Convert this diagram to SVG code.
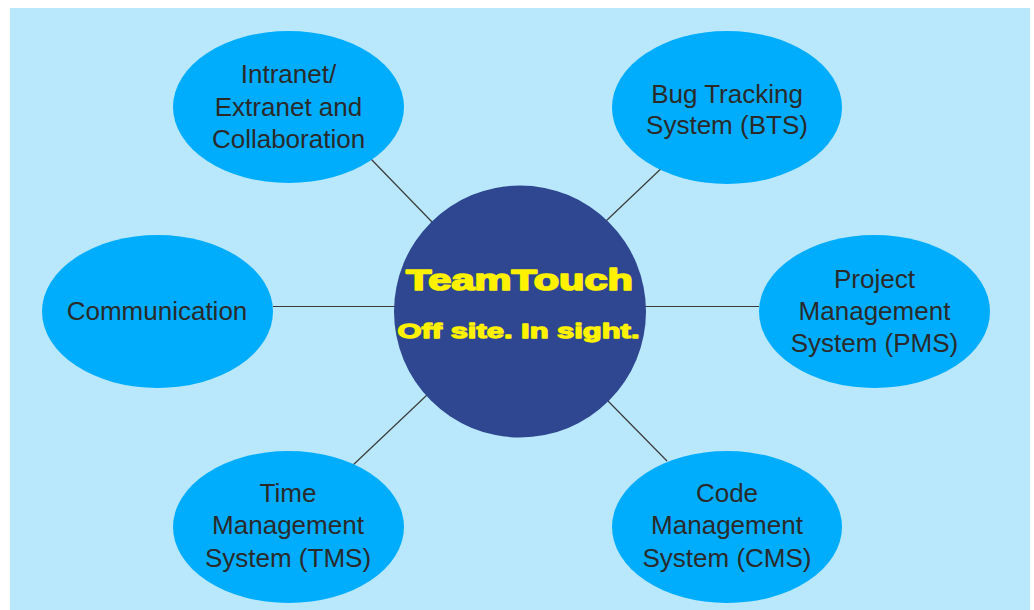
<svg xmlns="http://www.w3.org/2000/svg" width="1034" height="610" viewBox="0 0 1034 610">
<style>
.bg{fill:#b9e8fc}
.node{fill:#00adfd}
.hub{fill:#2f4690}
.lbl{font-family:"Liberation Sans",Arial,sans-serif;font-size:26px;fill:#2a2a2a;text-anchor:middle}
.hubt{font-family:"Liberation Sans",Arial,sans-serif;font-weight:bold;fill:#fff200;stroke:#fff200;stroke-linejoin:round;text-anchor:start}
.conn line{stroke:#3a3a3a;stroke-width:1.2}
</style>
<rect x="0" y="0" width="1034" height="610" fill="#ffffff"/>
<rect class="bg" x="10" y="8" width="1020" height="602"/>
<g id="connectors" class="conn">
<line x1="370" y1="158" x2="433" y2="223"/>
<line x1="667" y1="163" x2="606" y2="221"/>
<line x1="273" y1="306.5" x2="395" y2="306.5"/>
<line x1="645" y1="306.5" x2="759" y2="306.5"/>
<line x1="352" y1="466" x2="427" y2="395"/>
<line x1="608" y1="401" x2="667" y2="461"/>
</g>
<g id="node-intranet">
<ellipse class="node" cx="288.5" cy="107" rx="115.5" ry="76"/>
<text class="lbl" x="288.5" y="83">Intranet/</text>
<text class="lbl" x="288.5" y="116">Extranet and</text>
<text class="lbl" x="288.5" y="148">Collaboration</text>
</g>
<g id="node-bts">
<ellipse class="node" cx="727" cy="107.5" rx="115" ry="76.5"/>
<text class="lbl" x="727" y="103">Bug Tracking</text>
<text class="lbl" x="727" y="134">System (BTS)</text>
</g>
<g id="node-communication">
<ellipse class="node" cx="157.5" cy="311.5" rx="115.5" ry="76.5"/>
<text class="lbl" x="157" y="320">Communication</text>
</g>
<g id="node-pms">
<ellipse class="node" cx="874.5" cy="311.5" rx="115.5" ry="76.5"/>
<text class="lbl" x="874.5" y="288">Project</text>
<text class="lbl" x="874.5" y="320">Management</text>
<text class="lbl" x="874.5" y="352">System (PMS)</text>
</g>
<g id="node-tms">
<ellipse class="node" cx="288.5" cy="527" rx="115.5" ry="76"/>
<text class="lbl" x="288" y="502">Time</text>
<text class="lbl" x="288" y="534">Management</text>
<text class="lbl" x="288" y="567">System (TMS)</text>
</g>
<g id="node-cms">
<ellipse class="node" cx="727" cy="527" rx="115" ry="76"/>
<text class="lbl" x="727" y="502">Code</text>
<text class="lbl" x="727" y="534">Management</text>
<text class="lbl" x="727" y="567">System (CMS)</text>
</g>
<g id="node-teamtouch">
<circle class="hub" cx="520" cy="311.5" r="126"/>
<text class="hubt" x="406" y="290" font-size="29" stroke-width="1.7" textLength="227" lengthAdjust="spacingAndGlyphs">TeamTouch</text>
<text class="hubt" x="397.5" y="338" font-size="21" stroke-width="1.3" textLength="242" lengthAdjust="spacingAndGlyphs">Off site. In sight.</text>
</g>
</svg>
